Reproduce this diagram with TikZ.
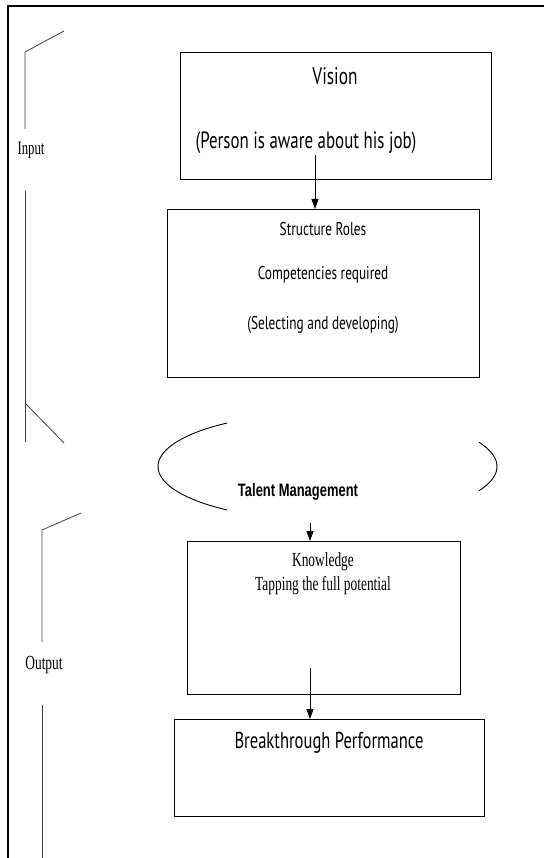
\documentclass[tikz,border=0pt]{standalone}
\usepackage{fontspec}
\usetikzlibrary{arrows.meta}
\newfontfamily\boxsans[FakeStretch=0.72]{PT Sans}
\newfontfamily\boxserif[FakeStretch=0.67]{Liberation Serif}
\newfontfamily\boxarial[FakeStretch=0.72]{Liberation Sans}

\begin{document}
\begin{tikzpicture}[x=1pt,y=-1pt,
    stagebox/.style={draw,line width=1.4pt,anchor=north west,inner sep=0pt},
    flow/.style={line width=0.9pt,-{Triangle[length=10pt,width=7pt]}},
    bracket/.style={line width=0.8pt,black!75}]
        \useasboundingbox (0,0) rectangle (544,858);
        \draw[line width=2pt] (8,858)--(8,6)--(544,6);
        % boxes
        \node[stagebox,minimum width=311pt,minimum height=127pt] (vision) at (180,52) {};
        \node[stagebox,minimum width=312pt,minimum height=168pt] (structure) at (167,209) {};
        \node[stagebox,minimum width=273pt,minimum height=153pt] (knowledge) at (187,541) {};
        \node[stagebox,minimum width=310pt,minimum height=97pt] (breakthrough) at (174,719) {};
        % texts
        \node[font=\boxsans\fontsize{24}{24}\selectfont] (visiont) at (335,76) {Vision};
        \node[font=\boxsans\fontsize{23.5}{23.5}\selectfont] (aware) at (306,143) {(Person is aware about his job)};
        \node[font=\boxsans\fontsize{18.5}{18.5}\selectfont] (roles) at (323,229) {Structure Roles};
        \node[font=\boxsans\fontsize{18.5}{18.5}\selectfont] (compet) at (323,275) {Competencies required};
        \node[font=\boxsans\fontsize{18.5}{18.5}\selectfont] (select) at (323,325) {(Selecting and developing)};
        \node[font=\boxarial\bfseries\fontsize{18}{18}\selectfont] (talent) at (298,492) {Talent Management};
        \node[font=\boxserif\fontsize{20}{20}\selectfont] (know) at (323,562) {Knowledge};
        \node[font=\boxserif\fontsize{20}{20}\selectfont] (tapping) at (323,586) {Tapping the full potential};
        \node[font=\boxsans\fontsize{23}{23}\selectfont] (perform) at (329,743) {Breakthrough Performance};
        \node[font=\boxserif\fontsize{19}{19}\selectfont] (input) at (31,150) {Input};
        \node[font=\boxserif\fontsize{20}{20}\selectfont] (output) at (44,665) {Output};
        % arrows
        \coordinate (a1) at (315,155);
        \coordinate (a2) at (310,523);
        \coordinate (a3) at (310,668);
        \draw[flow] (a1)--(a1|-structure.north);
        \draw[flow] (a2)--(a2|-knowledge.north);
        \draw[flow] (a3)--(a3|-breakthrough.north);
        % talent management ellipse
        \coordinate (tm) at (327.5,466.5);
        \draw[line width=0.9pt] plot[domain=126.4:233.6,smooth,samples=40] ({327.5+169.5*cos(\x)},{466.5+54*sin(\x)});
        \draw[line width=0.9pt] plot[domain=-26.6:26.6,smooth,samples=20] ({327.5+169.5*cos(\x)},{466.5+54*sin(\x)});
        % input and output brackets
        \draw[bracket] (64,31)--(25,52)--(25,129);
        \draw[bracket] (25,191)--(25,442);
        \draw[bracket] (25,403)--(64,443);
        \draw[bracket] (81,513)--(42,530)--(42,642);
        \draw[bracket] (42,705)--(42,858);
\end{tikzpicture}
\end{document}
